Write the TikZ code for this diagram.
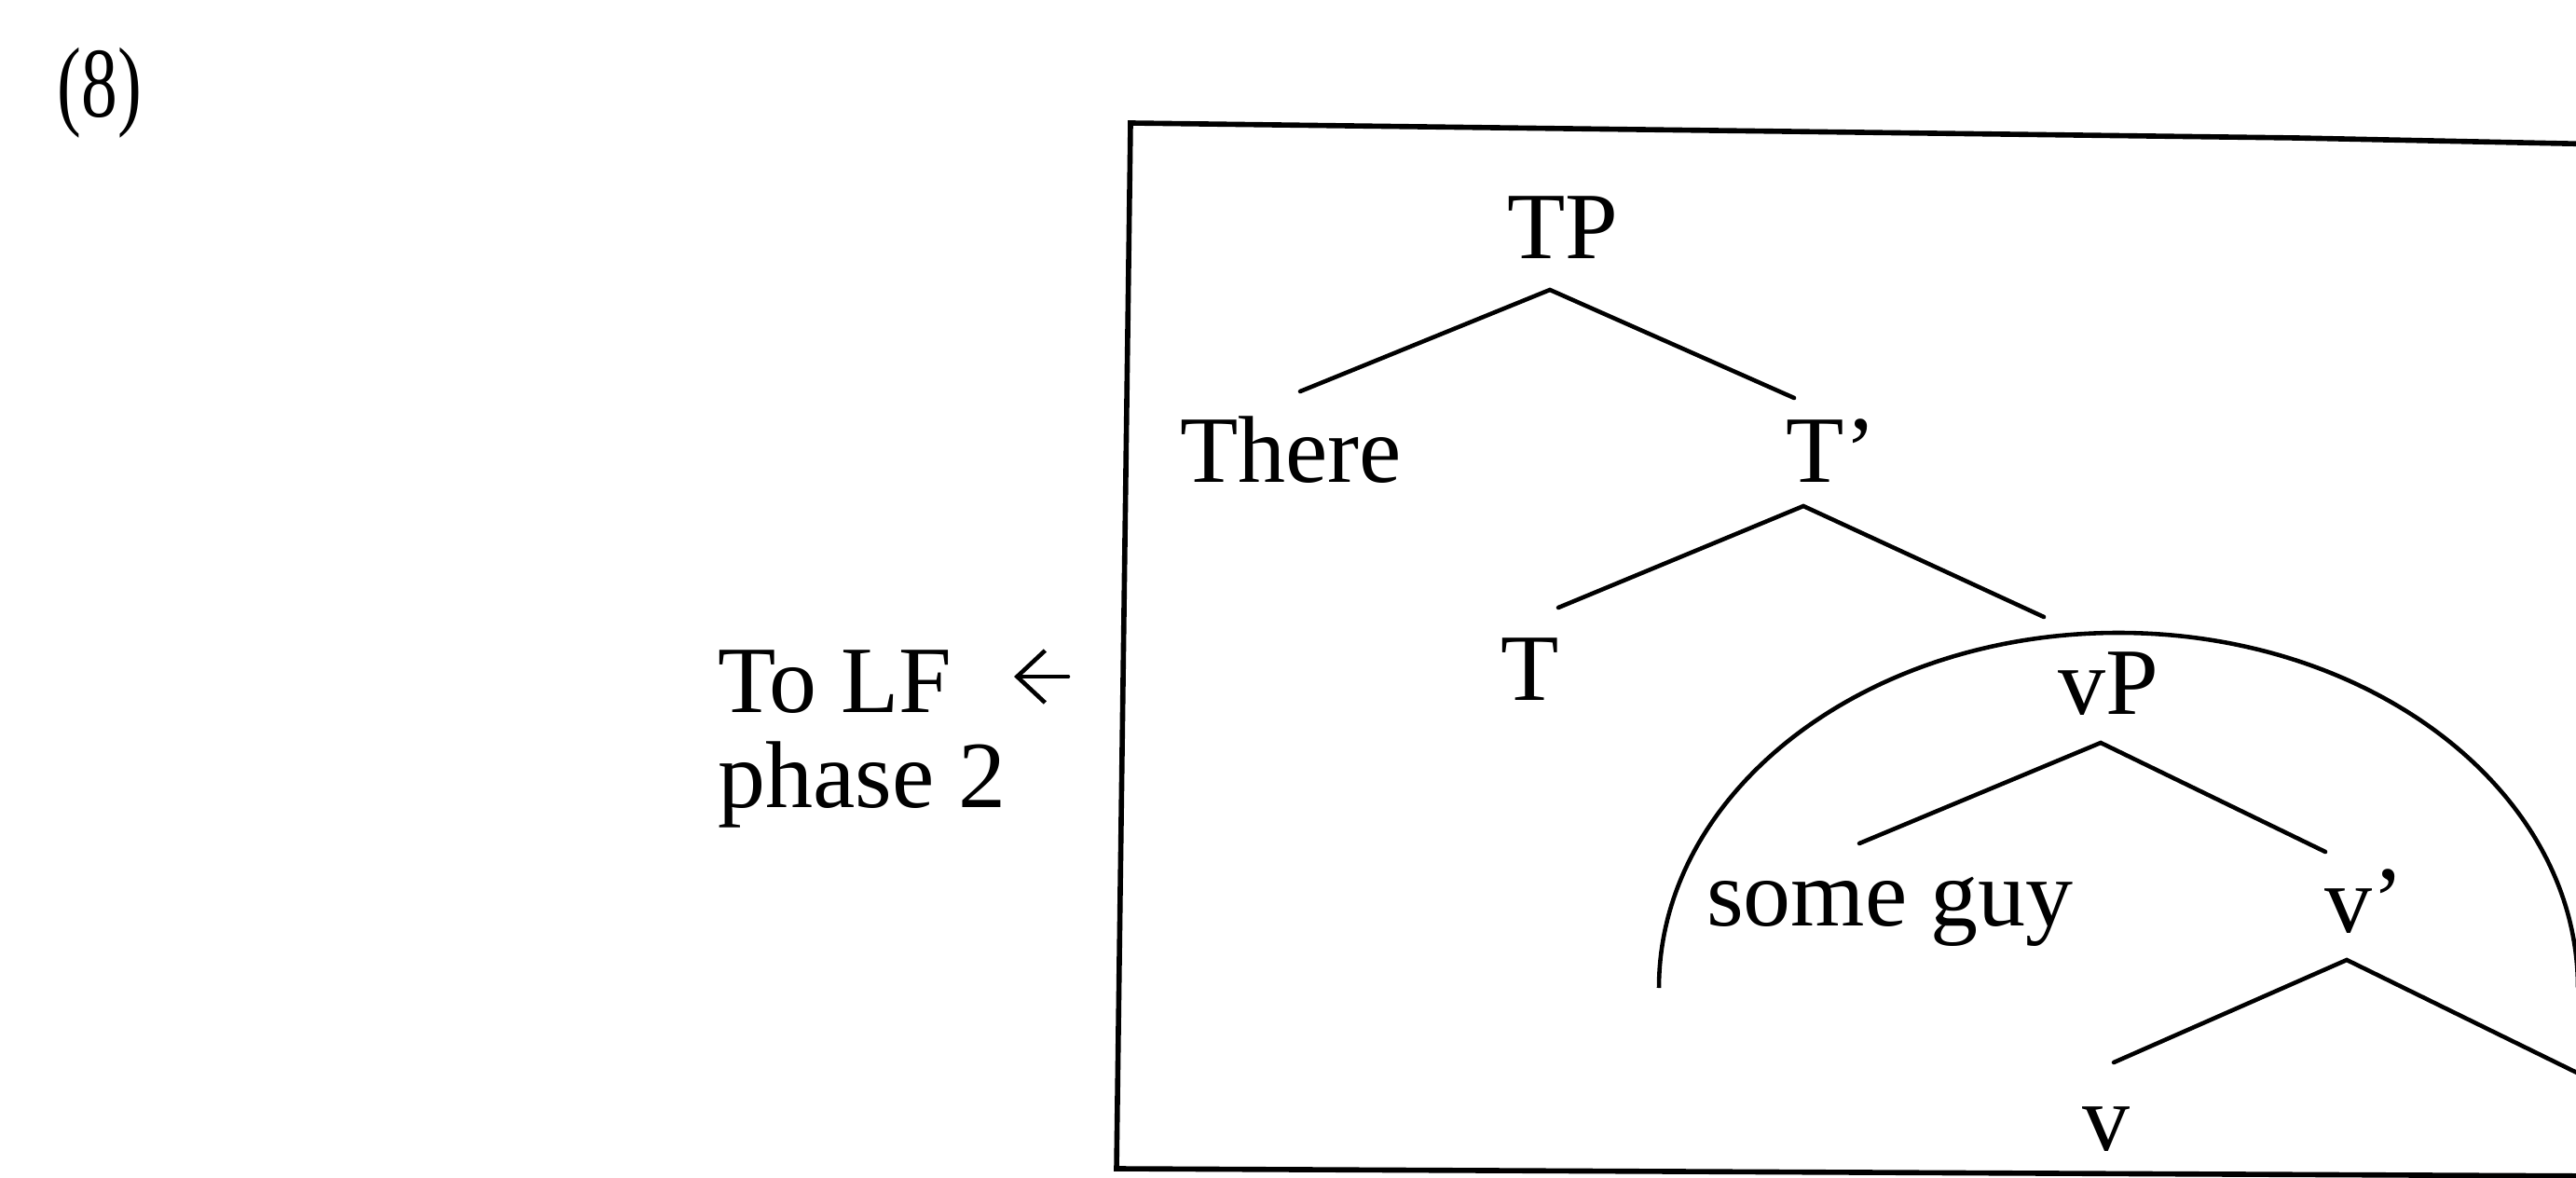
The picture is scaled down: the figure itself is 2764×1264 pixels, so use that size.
\documentclass[tikz,border=0pt]{standalone}
\usepackage{fontspec}
\setmainfont{Liberation Serif}
\usepackage{tikz}
\usetikzlibrary{arrows.meta}
\definecolor{pInk}{HTML}{000000}
\tikzset{
  cat/.style={font=\fontsize{29}{35}\selectfont, text=pInk, inner sep=0pt, anchor=base},
  branch/.style={draw=pInk, line width=1.3pt, line cap=round},
  frame/.style={draw=pInk, line width=1.6pt, line join=miter},
  phasering/.style={draw=pInk, line width=1.3pt},
}

\begin{document}
\begin{tikzpicture}[x=0.01cm, y=-0.01cm]
        \useasboundingbox (0,0) rectangle (2764,1264);
        \clip (0,0) rectangle (2764,1264);
        % example number and phase label
        \node[cat] (exnum) at (107,126) {\scalebox{0.76}[1.05]{(8)}};
        \node[cat, anchor=base west] (tolf) at (770,764) {To LF};
        \node[cat, anchor=base west] (phase) at (770,866) {phase 2};
        \coordinate (lftail) at (1146,726);
        \coordinate (lfhead) at (1088,726);
        \draw[branch, -{Straight Barb[length=0.3cm, width=0.56cm]}] (lftail) -- (lfhead);
        % the box
        \draw[frame] (2800,155) -- (2464,148) -- (1213,132) -- (1198,1254) -- (2800,1262);
        % tree
        \node[cat] (tp) at (1677,278) {TP};
        \node[cat] (there) at (1385,517) {There};
        \node[cat] (tbar) at (1965,517) {T’};
        \node[cat] (t) at (1642,751) {T};
        \node[cat] (vp) at (2262,766) {vP};
        \node[cat] (someguy) at (2028,993) {some guy};
        \node[cat] (vbar) at (2537,1000) {v’};
        \node[cat] (v) at (2260,1234) {v};
        \draw[branch] ([shift={(10,-97)}]there.base) -- ([shift={(-14,33)}]tp.base) -- ([shift={(-40,-90)}]tbar.base);
        \draw[branch] ([shift={(30,-99)}]t.base) -- ([shift={(-30,26)}]tbar.base) -- ([shift={(-69,-104)}]vp.base);
        \draw[branch] ([shift={(-33,-88)}]someguy.base) -- ([shift={(-8,31)}]vp.base) -- ([shift={(-42,-86)}]vbar.base);
        \draw[branch] ([shift={(8,-94)}]v.base) -- ([shift={(-19,30)}]vbar.base) -- ([shift={(281,177)}]vbar.base);
        % phase boundary
        \draw[phasering] (1780,1060) arc[start angle=180, end angle=360, x radius=493, y radius=381];
      \end{tikzpicture}
\end{document}
